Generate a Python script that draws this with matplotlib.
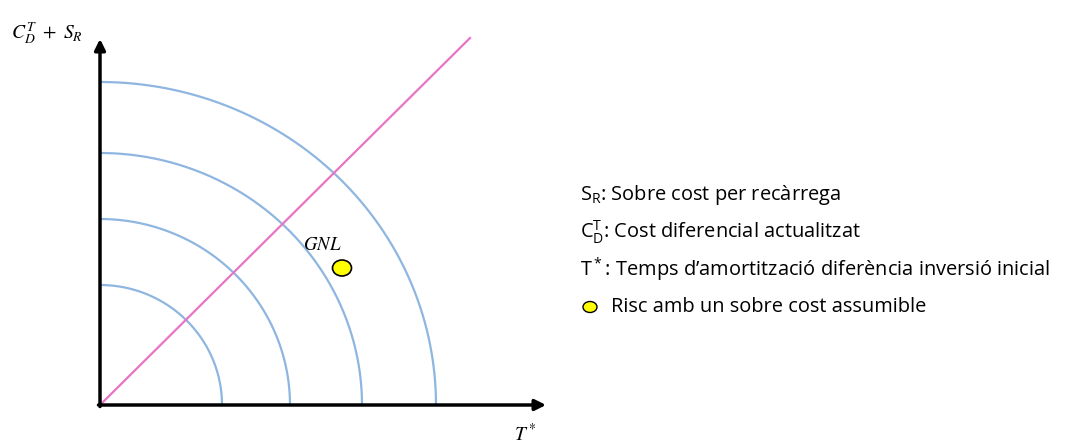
import numpy as np
import matplotlib.pyplot as plt
from matplotlib.patches import Ellipse

# Radis dels arcs (horitzontal i vertical), en unitats del diagrama
radi_x = [122, 190, 262, 336]
radi_y = [120, 186, 252, 323]

# Punt GNL
gnl_x, gnl_y = 242, 137

# Recta diagonal
diag_x = [0, 370]
diag_y = [0, 367]

# Llegenda
llegenda = [
    r'$\mathrm{S_R}$: Sobre cost per recàrrega',
    r'$\mathrm{C_D^T}$: Cost diferencial actualitzat',
    r'$\mathrm{T^*}$: Temps d’amortització diferència inversió inicial',
    'Risc amb un sobre cost assumible',
]


def main():
    plt.rcParams['mathtext.fontset'] = 'custom'
    plt.rcParams['mathtext.rm'] = 'Open Sans'

    fig = plt.figure(figsize=(10.72, 4.45), dpi=100)
    ax = fig.add_axes([0, 0, 1, 1])
    ax.set_xlim(-100, 972)
    ax.set_ylim(-40, 405)
    ax.axis('off')

    # Arcs
    t = np.linspace(0, np.pi / 2, 200)
    for rx, ry in zip(radi_x, radi_y):
        ax.plot(rx * np.cos(t), ry * np.sin(t), color='#8fb6e0', lw=1.6)

    # Diagonal
    ax.plot(diag_x, diag_y, color='#e874c4', lw=1.6)

    # Eixos
    ax.annotate('', xy=(0, 366), xytext=(0, -1.5),
                arrowprops=dict(arrowstyle='-|>', color='black', lw=2.5,
                                mutation_scale=16, shrinkA=0, shrinkB=0))
    ax.annotate('', xy=(446, 0), xytext=(-1.5, 0),
                arrowprops=dict(arrowstyle='-|>', color='black', lw=2.5,
                                mutation_scale=16, shrinkA=0, shrinkB=0))

    ax.text(-53, 372, r'$C_D^T\ +\ S_R$',
            fontsize=14, ha='center', va='center', math_fontfamily='stix')
    ax.text(425, -29, r'$T^*$', fontsize=14, ha='center', va='center',
            math_fontfamily='stix')

    # GNL
    ax.add_patch(Ellipse((gnl_x, gnl_y), 19, 16, facecolor='#ffff00',
                         edgecolor='black', lw=1.2, zorder=5))
    ax.text(gnl_x - 20, gnl_y + 23, r'$GNL$', fontsize=13.5, ha='center',
            va='center', math_fontfamily='stix')

    # Llegenda
    ys = [210, 173, 135, 98]
    for i, (txt, y) in enumerate(zip(llegenda, ys)):
        if i < 3:
            ax.text(480, y, txt, fontsize=14.4, family='Open Sans', ha='left',
                    va='center', math_fontfamily='custom')
        else:
            ax.add_patch(Ellipse((490, y), 14, 11, facecolor='#ffff00',
                                 edgecolor='black', lw=1.0))
            ax.text(511, y, txt, fontsize=14.4, family='Open Sans', ha='left',
                    va='center')

    fig.savefig('out.png', dpi=100)


if __name__ == "__main__":
    main()
